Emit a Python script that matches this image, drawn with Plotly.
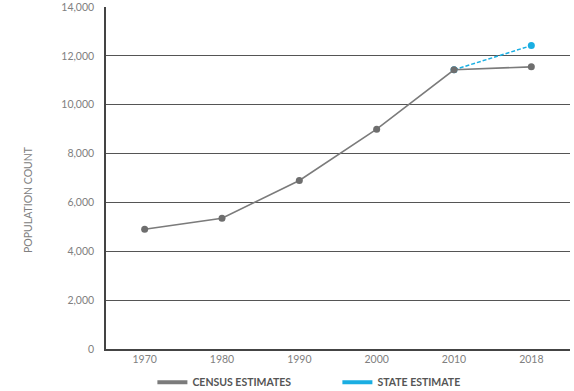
import plotly.graph_objects as go

years = ["1970", "1980", "1990", "2000", "2010", "2018"]
census = [4900, 5350, 6900, 9000, 11430, 11550]
state_years = ["2010", "2018"]
state = [11430, 12420]

GRAY = "#7b7b7b"
MARK = "#6e6e6e"
BLUE = "#1aaee2"
FONT = "Lato"

fig = go.Figure()
fig.add_trace(go.Scatter(x=state_years, y=state, mode="lines+markers",
                         line=dict(color=BLUE, width=1.5, dash="4px,2px"),
                         marker=dict(color=BLUE, size=7), showlegend=False))
fig.add_trace(go.Scatter(x=years, y=census, mode="lines+markers",
                         line=dict(color=GRAY, width=1.6),
                         marker=dict(color=MARK, size=7), showlegend=False))
# legend entries
fig.add_trace(go.Scatter(x=[None], y=[None], mode="lines", name="CENSUS ESTIMATES",
                         line=dict(color=GRAY, width=4)))
fig.add_trace(go.Scatter(x=[None], y=[None], mode="lines", name="STATE ESTIMATE",
                         line=dict(color=BLUE, width=4)))

fig.update_layout(
    width=574, height=391,
    margin=dict(l=106, r=4, t=7, b=42, autoexpand=False),
    paper_bgcolor="white", plot_bgcolor="white",
    font=dict(family=FONT, color="#808080", size=11),
    xaxis=dict(type="category", categoryorder="array", categoryarray=years,
               range=[-0.5, 5.5], showgrid=False, showline=True,
               linecolor="#444", linewidth=1.5, ticks="", ticklen=0,
               tickfont=dict(size=10.5, color="#808080")),
    yaxis=dict(range=[0, 14000], dtick=2000, tickformat=",",
               showgrid=True, gridcolor="#555", gridwidth=1.3,
               showline=True, linecolor="#444", linewidth=1.5,
               zeroline=False, ticks="", ticklabelstandoff=8,
               tickfont=dict(size=10.5, color="#808080")),
    legend=dict(orientation="h", x=0.1, xanchor="left", y=-0.055, yanchor="top",
                font=dict(size=10.5, color="#555", family=FONT, weight="bold"),
                entrywidth=140, entrywidthmode="pixels", itemwidth=30,
                bgcolor="rgba(0,0,0,0)"),
    annotations=[dict(text="POPULATION COUNT", xref="paper", yref="paper",
                      x=-0.168, y=0.436, textangle=-90, showarrow=False,
                      xanchor="center", yanchor="middle",
                      font=dict(size=10.5, color="#808080", family=FONT))],
)

fig.write_html("out.html")
